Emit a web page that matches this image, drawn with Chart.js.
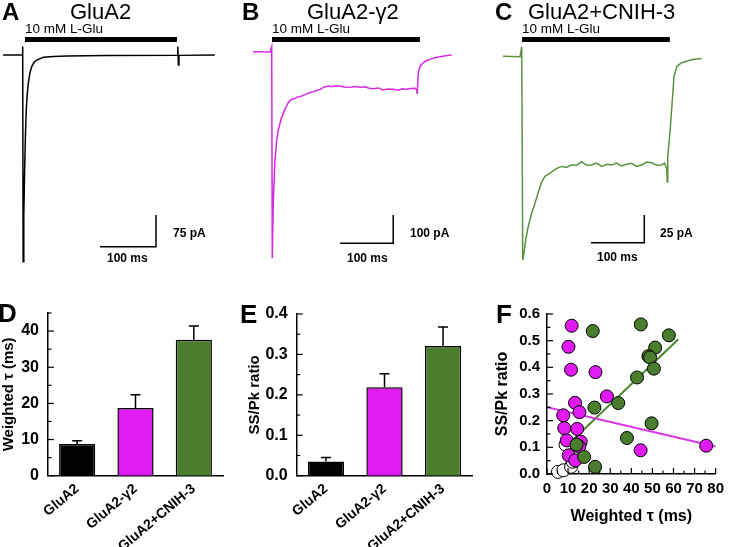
<!DOCTYPE html>
<html>
<head>
<meta charset="utf-8">
<script src="https://cdn.jsdelivr.net/npm/chart.js@4.4.1/dist/chart.umd.min.js"></script>
<style>
  html, body { margin: 0; padding: 0; background: #fff; }
  #fig { position: relative; width: 730px; height: 547px; overflow: hidden; font-family: "Liberation Sans", Arial, sans-serif; color: #000; }
  #fig canvas { position: absolute; }
  .lbl { position: absolute; white-space: nowrap; line-height: 1; }
</style>
</head>
<body>
<div id="fig">
  <canvas id="traceA" width="240" height="280" style="left:0;top:0"></canvas>
  <canvas id="traceB" width="245" height="280" style="left:240px;top:0"></canvas>
  <canvas id="traceC" width="245" height="280" style="left:485px;top:0"></canvas>
  <canvas id="barD" width="240" height="257" style="left:0;top:290px"></canvas>
  <canvas id="barE" width="239" height="257" style="left:246px;top:290px"></canvas>
  <canvas id="scatF" width="237" height="240" style="left:493px;top:290px"></canvas>
</div>
<script>
// ====== data: current traces (ms, pA) ======
const aTime = [-35, -1, 0, 0.8, 2, 3.6, 5, 6.4, 8, 10, 13, 16, 20, 25, 37, 55, 80, 150, 276, 277, 278, 279, 343];
const aCurrent = [0, 0, 20, -489, -380, -264, -185, -130, -95, -67, -42, -28, -18, -12, -5.5, -3.5, -2.4, -1.2, -1, 20, -24, -1, 0];

const bTime = [-35, -3, 0, 1.1, 3, 6.2, 9.4, 12, 15.6, 18, 21.8, 25, 28.1, 31, 34.3, 38, 43.7, 48, 53.1, 58,
  65.7, 70, 78, 84, 90.6, 97, 106, 112, 120, 128, 136, 147, 155, 165.7, 175, 183, 190.6, 200, 209, 218,
  228, 238, 245, 253, 261, 269, 272, 273, 275, 278, 284, 290, 297, 306, 316, 326, 337.7];
const bCurrent = [0, -1, 18, -730, -524, -383, -312, -280, -253, -235, -218, -203, -192, -180, -173, -168, -165, -160, -159, -155,
  -149, -146, -141, -137, -133, -126, -121, -124, -120, -121, -125, -126, -123, -126, -124, -129, -131, -128, -135, -132,
  -133, -136, -131, -133, -130, -129, -135, -149, -76, -53, -39, -32, -27, -21, -18, -14, -12];

const cTime = [-35, -3, 0, 1.9, 4.3, 7.5, 12.4, 18.8, 25, 31.2, 37.5, 43.7, 50, 56.3, 65, 75, 84, 93.8, 103, 112.6,
  122, 131, 140, 150, 160, 169, 178, 187.6, 197, 206, 215, 225, 234, 244, 253, 262.7, 268, 272, 273, 274,
  278, 282.6, 285.7, 290.8, 298, 306, 320, 337.7];
const cCurrent = [0.5, 0, 9, -183.5, -177, -165, -153, -141, -132, -122, -113, -108, -106, -104, -101, -99, -100, -97.5, -98, -94.8,
  -98, -97.7, -96, -99, -97, -97.7, -96, -98.6, -97, -96.2, -99, -97.7, -95, -95.7, -98, -97.7, -96, -100.7, -113, -90,
  -69, -39, -18, -9, -6, -4.5, -2.5, -1.5];

// ====== data: bar charts ======
const groups = ["GluA2", "GluA2-\u03b32", "GluA2+CNIH-3"];
const tauMean = [8.8, 18.7, 37.6];
const tauErr = [0.9, 3.7, 3.8];
const ratioMean = [0.035, 0.219, 0.321];
const ratioErr = [0.010, 0.033, 0.047];

// ====== data: scatter (weighted tau vs SS/Pk) ======
const magentaTau = [11.7, 10.2, 11.4, 23, 28.4, 13.3, 15.4, 7.7, 8.2, 14.3, 9.4, 16, 15.3, 10.3, 13.4, 44.4, 75.5];
const magentaRatio = [0.556, 0.477, 0.391, 0.382, 0.291, 0.267, 0.232, 0.220, 0.172, 0.169, 0.126, 0.121, 0.103, 0.070, 0.051, 0.089, 0.106];
const greenTau = [44.5, 21.7, 57.8, 51.3, 48.1, 48.9, 50.7, 42.7, 33.8, 22.5, 49.6, 37.9, 14, 17.6, 22.8];
const greenRatio = [0.561, 0.536, 0.520, 0.474, 0.442, 0.437, 0.395, 0.362, 0.266, 0.249, 0.190, 0.135, 0.110, 0.064, 0.027];
const whiteTau = [5.2, 7.8, 11.4, 12.2, 8.8];
const whiteRatio = [0.008, 0.014, 0.027, 0.046, 0.11];
const magentaFitTau = [0, 80];
const magentaFitRatio = [0.25, 0.103];
const greenFitTau = [11.4, 62.3];
const greenFitRatio = [0.121, 0.505];

// ====== colours ======
const MAGENTA = "#e01af0";
const GREEN = "#4b7d2c";
const FONT = '"Liberation Sans", Arial, sans-serif';

Chart.defaults.font.family = FONT;
Chart.defaults.color = "#000";

const fig = document.getElementById("fig");

function addLabel(text, x, baseline, size, bold) {
  const d = document.createElement("div");
  d.className = "lbl";
  d.textContent = text;
  d.style.left = x + "px";
  d.style.top = (baseline - 0.85 * size) + "px";
  d.style.fontSize = size + "px";
  d.style.fontWeight = bold ? "bold" : "normal";
  fig.appendChild(d);
}

const toPoints = (xs, ys) => xs.map((x, i) => ({ x, y: ys[i] }));

// ====== plugin: inward ticks (major + minor) ======
const inTicks = {
  id: "inTicks",
  afterDraw(chart, args, opts) {
    const ctx = chart.ctx;
    (opts.axes || []).forEach((a) => {
      const sc = chart.scales[a.id];
      const n = Math.round((sc.max - sc.min) / a.minor);
      ctx.save();
      ctx.strokeStyle = "#000";
      ctx.lineWidth = 1.2;
      for (let i = 0; i <= n; i++) {
        const v = sc.min + i * a.minor;
        const r = v / a.major;
        const len = Math.abs(r - Math.round(r)) < 1e-6 ? 6 : 3.5;
        const p = sc.getPixelForValue(v);
        ctx.beginPath();
        if (sc.isHorizontal()) {
          ctx.moveTo(p, sc.top);
          ctx.lineTo(p, sc.top - len);
        } else {
          ctx.moveTo(sc.right, p);
          ctx.lineTo(sc.right + len, p);
        }
        ctx.stroke();
      }
      ctx.restore();
    });
  },
};

// ====== plugin: upward error bars ======
const errorBars = {
  id: "errorBars",
  afterDatasetsDraw(chart) {
    const ctx = chart.ctx;
    const y = chart.scales.y;
    chart.data.datasets.forEach((ds, di) => {
      if (!ds.errors) return;
      chart.getDatasetMeta(di).data.forEach((bar, i) => {
        const top = y.getPixelForValue(ds.data[i] + ds.errors[i]);
        ctx.save();
        ctx.strokeStyle = "#000";
        ctx.lineWidth = 1.5;
        ctx.beginPath();
        ctx.moveTo(bar.x, bar.y);
        ctx.lineTo(bar.x, top);
        ctx.moveTo(bar.x - 5, top);
        ctx.lineTo(bar.x + 5, top);
        ctx.stroke();
        ctx.restore();
      });
    });
  },
};

// ====== traces A-C ======
function traceChart(id, time, current, color, xr, yr, drug, bar) {
  new Chart(document.getElementById(id), {
    type: "scatter",
    data: {
      datasets: [
        { data: toPoints(time, current), showLine: true, borderColor: color, borderWidth: 1.5, pointRadius: 0 },
        { data: [{ x: drug.from, y: drug.at }, { x: drug.to, y: drug.at }], showLine: true, borderColor: "#000", borderWidth: 5, pointRadius: 0 },
        {
          data: [{ x: bar.t - 100, y: bar.i }, { x: bar.t, y: bar.i }, { x: bar.t, y: bar.i + bar.di }],
          showLine: true, borderColor: "#000", borderWidth: 1.5, pointRadius: 0, borderJoinStyle: "miter",
        },
      ],
    },
    options: {
      responsive: false,
      animation: false,
      events: [],
      layout: { padding: 0 },
      plugins: { legend: { display: false }, tooltip: { enabled: false } },
      scales: {
        x: { type: "linear", display: false, min: xr[0], max: xr[1] },
        y: { display: false, min: yr[0], max: yr[1] },
      },
    },
  });
}

traceChart("traceA", aTime, aCurrent, "#000", [-40.5, 388], [-532.4, 130],
  { from: 4.1, to: 275.5, at: 36.7 }, { t: 238, i: -453.5, di: 75 });
traceChart("traceB", bTime, bCurrent, "#d52ae2", [-59.5, 400.2], [-806.7, 182.7],
  { from: 0.6, to: 278, at: 43 }, { t: 228, i: -677, di: 100 });
traceChart("traceC", cTime, cCurrent, "#5b9240", [-68.9, 390.8], [-201.5, 51.2],
  { from: 0.6, to: 278, at: 15.5 }, { t: 230, i: -167.9, di: 25 });

// ====== bar charts D, E ======
function barChart(id, values, errors, yMax, yStep, yTitle, yWidth, pad, digits) {
  new Chart(document.getElementById(id), {
    type: "bar",
    data: {
      labels: groups,
      datasets: [{
        data: values,
        errors,
        backgroundColor: ["#000", MAGENTA, GREEN],
        borderColor: "#000",
        borderWidth: 1.5,
        barPercentage: 0.62,
        categoryPercentage: 1,
      }],
    },
    options: {
      responsive: false,
      animation: false,
      events: [],
      layout: { padding: { top: pad.top, right: pad.right, left: 0, bottom: 0 } },
      plugins: {
        legend: { display: false },
        tooltip: { enabled: false },
        inTicks: { axes: [{ id: "y", major: yStep, minor: yStep / 2 }] },
      },
      scales: {
        x: {
          grid: { display: false, drawTicks: false },
          border: { color: "#000", width: 1.5 },
          ticks: { color: "#000", font: { weight: "bold", size: 14 }, minRotation: 40, maxRotation: 40, padding: 5 },
          afterFit: (s) => { s.height = 71.3; },
        },
        y: {
          min: 0,
          max: yMax,
          grid: { display: false, drawTicks: false },
          border: { color: "#000", width: 1.5 },
          ticks: {
            stepSize: yStep,
            includeBounds: false,
            padding: 9,
            color: "#000",
            font: { weight: "bold", size: 16 },
            callback: (v) => (Math.abs(v / yStep - Math.round(v / yStep)) < 1e-6 ? v.toFixed(digits) : null),
          },
          title: { display: true, text: yTitle, color: "#000", font: { weight: "bold", size: 15 }, padding: 0 },
          afterFit: (s) => { s.width = yWidth; },
        },
      },
    },
    plugins: [inTicks, errorBars],
  });
}

barChart("barD", tauMean, tauErr, 45, 10, "Weighted \u03c4 (ms)", 48, { top: 23, right: 17 }, 0);
barChart("barE", ratioMean, ratioErr, 0.4, 0.1, "SS/Pk ratio", 50.7, { top: 24, right: 12.7 }, 1);

// ====== scatter F ======
const dot = (color) => ({ backgroundColor: color, borderColor: "#000", borderWidth: 1, pointRadius: 6.5, clip: false });
new Chart(document.getElementById("scatF"), {
  type: "scatter",
  data: {
    datasets: [
      { data: toPoints(greenTau, greenRatio), ...dot("#4a7d2e") },
      { data: toPoints(magentaTau, magentaRatio), ...dot(MAGENTA) },
      { data: toPoints(whiteTau, whiteRatio), ...dot("#fff") },
      { data: toPoints(magentaFitTau, magentaFitRatio), showLine: true, borderColor: "#d838e4", borderWidth: 2, pointRadius: 0 },
      { data: toPoints(greenFitTau, greenFitRatio), showLine: true, borderColor: "#4b8a2e", borderWidth: 2, pointRadius: 0 },
    ],
  },
  options: {
    responsive: false,
    animation: false,
    events: [],
    layout: { padding: { top: 24, right: 10, left: 0, bottom: 0 } },
    plugins: {
      legend: { display: false },
      tooltip: { enabled: false },
      inTicks: { axes: [{ id: "x", major: 10, minor: 5 }, { id: "y", major: 0.1, minor: 0.05 }] },
    },
    scales: {
      x: {
        type: "linear",
        min: 0,
        max: 80,
        grid: { display: false, drawTicks: false },
        border: { color: "#000", width: 1.5 },
        ticks: { stepSize: 10, padding: 6, maxRotation: 0, autoSkip: false, color: "#000", font: { weight: "bold", size: 15 } },
        title: { display: true, text: "Weighted \u03c4 (ms)", color: "#000", font: { weight: "bold", size: 16 }, padding: 4 },
        afterFit: (s) => { s.height = 56; },
      },
      y: {
        min: 0,
        max: 0.6,
        grid: { display: false, drawTicks: false },
        border: { color: "#000", width: 1.5 },
        ticks: { stepSize: 0.1, padding: 7, color: "#000", font: { weight: "bold", size: 15 }, callback: (v) => v.toFixed(1) },
        title: { display: true, text: "SS/Pk ratio", color: "#000", font: { weight: "bold", size: 16 }, padding: 0 },
        afterFit: (s) => { s.width = 54; },
      },
    },
  },
  plugins: [inTicks],
});

// ====== panel letters and annotations ======
addLabel("A", 2, 20, 24, true);
addLabel("GluA2", 70, 20, 22, false);
addLabel("10 mM L-Glu", 25, 33, 13.5, false);
addLabel("75 pA", 173, 237, 12, true);
addLabel("100 ms", 107, 262, 12, true);

addLabel("B", 242, 20, 24, true);
addLabel("GluA2-\u03b32", 307, 20, 22, false);
addLabel("10 mM L-Glu", 272, 33, 13.5, false);
addLabel("100 pA", 410, 237, 12, true);
addLabel("100 ms", 347, 262, 12, true);

addLabel("C", 495, 20, 24, true);
addLabel("GluA2+CNIH-3", 528, 20, 22, false);
addLabel("10 mM L-Glu", 522, 33, 13.5, false);
addLabel("25 pA", 660, 237, 12, true);
addLabel("100 ms", 597, 261, 12, true);

addLabel("D", -2, 322, 26, true);
addLabel("E", 240, 323, 26, true);
addLabel("F", 496, 323, 26, true);
</script>
</body>
</html>
